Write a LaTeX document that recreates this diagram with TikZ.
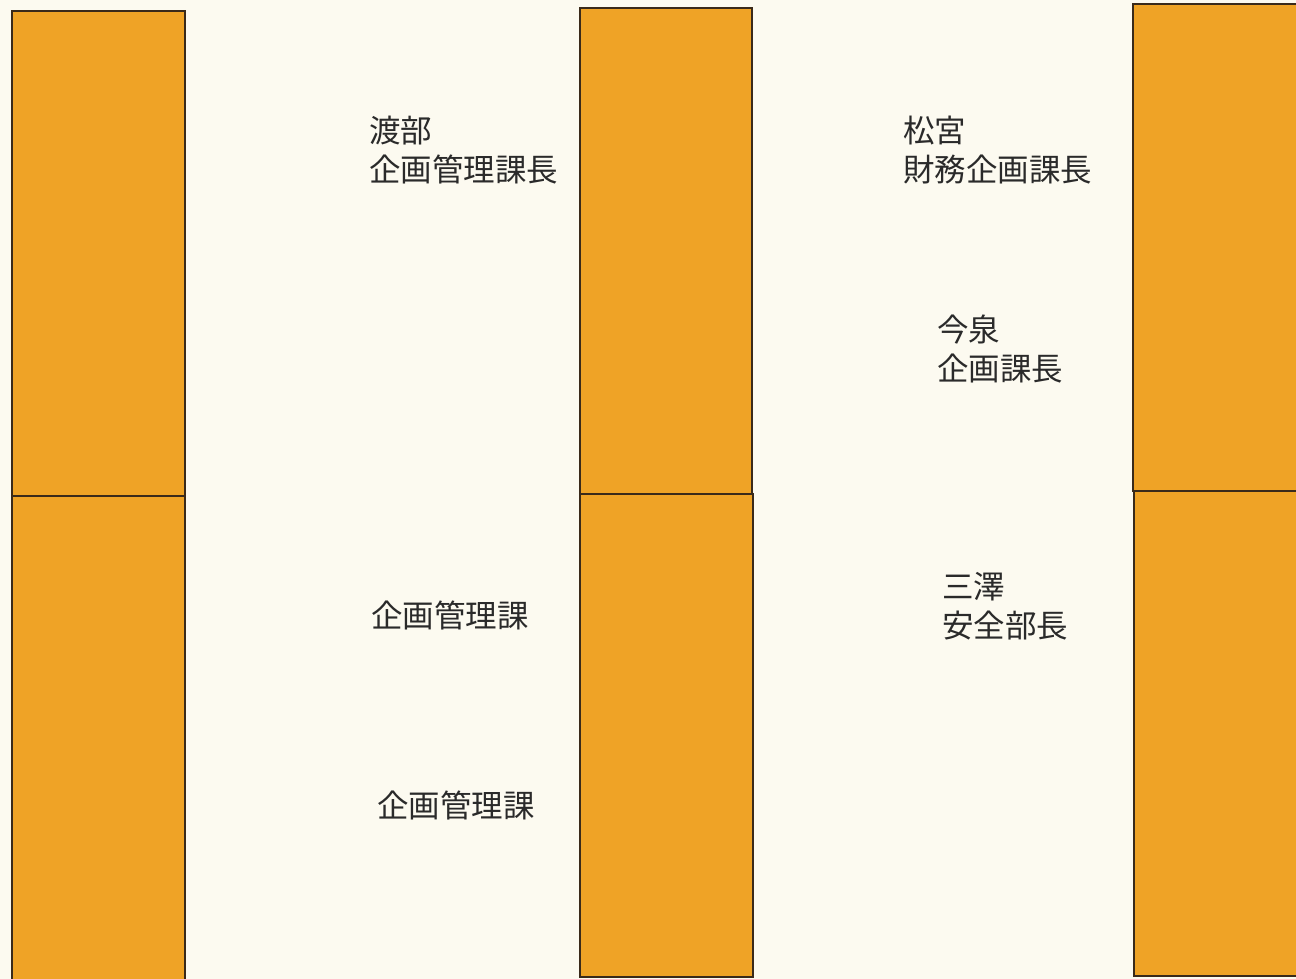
\documentclass[tikz,border=0pt]{standalone}
\usepackage{fontspec}
\newfontfamily\cjk{Noto Sans CJK JP}
\definecolor{bg}{HTML}{FCFAF0}
\definecolor{org}{HTML}{EFA326}
\definecolor{edge}{HTML}{3A2A1A}
\definecolor{txt}{HTML}{2A2A2A}
\begin{document}
\begin{tikzpicture}[x=1pt,y=-1pt,
  panel/.style={fill=org,draw=edge,line width=1.5pt},
  label/.style={anchor=west,inner sep=0pt,align=left,text=txt,font=\cjk\fontsize{31.5}{38.5}\selectfont}]
\fill[bg] (0,0) rectangle (1296,979);
\useasboundingbox (0,0) rectangle (1296,979);
% column 1
\draw[panel] (12,11) rectangle (185,496);
\draw[panel] (12,496) rectangle (185,985);
% column 2
\draw[panel] (580,8) rectangle (752,494);
\draw[panel] (580,494) rectangle (753,977);
% column 3
\draw[panel] (1133,4) rectangle (1305,491);
\draw[panel] (1134,491) rectangle (1305,976);
% labels
\node[label] (watabe) at (369,150) {渡部\\企画管理課長};
\node[label] (kikaku1) at (371,615) {企画管理課};
\node[label] (kikaku2) at (377,805) {企画管理課};
\node[label] (matsumiya) at (903,150) {松宮\\財務企画課長};
\node[label] (imaizumi) at (937,349) {今泉\\企画課長};
\node[label] (misawa) at (942,606) {三澤\\安全部長};
\end{tikzpicture}
\end{document}
